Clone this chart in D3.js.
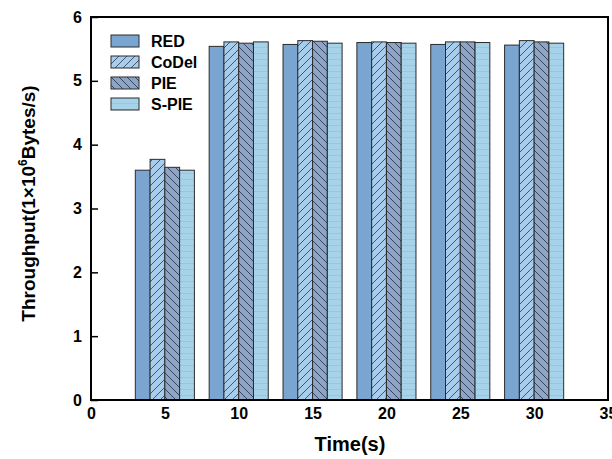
<!DOCTYPE html>
<html>
<head>
<meta charset="utf-8">
<script src="https://cdn.jsdelivr.net/npm/d3@7"></script>
<style>
  body { margin: 0; background: #fff; }
  text { font-family: Arial, "Liberation Sans", sans-serif; font-weight: bold; }
</style>
</head>
<body>
<div id="chart"></div>
<script>
const tempos = [5, 10, 15, 20, 25, 30];
const series = ["RED", "CoDel", "PIE", "S-PIE"];
const red = [3.60, 5.54, 5.57, 5.60, 5.57, 5.56];
const codel = [3.77, 5.61, 5.63, 5.61, 5.61, 5.63];
const pie = [3.645, 5.59, 5.62, 5.60, 5.61, 5.61];
const spie = [3.60, 5.61, 5.59, 5.59, 5.60, 5.59];
const xTicks = [0, 5, 10, 15, 20, 25, 30, 35];
const yTicks = [0, 1, 2, 3, 4, 5, 6];

const valores = [red, codel, pie, spie];
const preenchimento = ["#7aa5d1", "url(#hachCodel)", "url(#hachPie)", "url(#linhasSpie)"];

const largura = 612, altura = 459;
const margem = { top: 17, right: 4, bottom: 59, left: 91 };

const svg = d3.select("#chart").append("svg")
  .attr("width", largura)
  .attr("height", altura);

const defs = svg.append("defs");

// hachura "/" do CoDel
const pCodel = defs.append("pattern")
  .attr("id", "hachCodel")
  .attr("patternUnits", "userSpaceOnUse")
  .attr("width", 8).attr("height", 8);
pCodel.append("rect").attr("width", 8).attr("height", 8).attr("fill", "#a8cdec");
pCodel.append("path").attr("d", "M0,8 L8,0 M-2,2 L2,-2 M6,10 L10,6")
  .attr("stroke", "#3a4a5e").attr("stroke-width", 0.9);

// hachura "\" do PIE
const pPie = defs.append("pattern")
  .attr("id", "hachPie")
  .attr("patternUnits", "userSpaceOnUse")
  .attr("width", 8).attr("height", 8);
pPie.append("rect").attr("width", 8).attr("height", 8).attr("fill", "#8ea5c8");
pPie.append("path").attr("d", "M0,0 L8,8 M-2,6 L2,10 M6,-2 L10,2")
  .attr("stroke", "#2f3b50").attr("stroke-width", 0.9);

// linhas horizontais fracas do S-PIE
const pSpie = defs.append("pattern")
  .attr("id", "linhasSpie")
  .attr("patternUnits", "userSpaceOnUse")
  .attr("width", 8).attr("height", 6);
pSpie.append("rect").attr("width", 8).attr("height", 6).attr("fill", "#a6d3ea");
pSpie.append("path").attr("d", "M0,5.5 L8,5.5")
  .attr("stroke", "#94c2dc").attr("stroke-width", 0.8);

const x = d3.scaleLinear().domain([0, 35]).range([margem.left, largura - margem.right]);
const y = d3.scaleLinear().domain([0, 6]).range([altura - margem.bottom, margem.top]);

// barras
series.forEach((nome, s) => {
  svg.append("g").selectAll("rect")
    .data(tempos.map((t, i) => ({ t: t, v: valores[s][i] })))
    .enter()
    .append("rect")
    .attr("x", d => x(d.t - 2 + s))
    .attr("y", d => y(d.v))
    .attr("width", d => x(d.t - 1 + s) - x(d.t - 2 + s))
    .attr("height", d => y(0) - y(d.v))
    .attr("fill", preenchimento[s])
    .attr("stroke", "#2b2b2b")
    .attr("stroke-width", 1);
});

// eixos
const eixoY = svg.append("g")
  .attr("transform", `translate(${margem.left},0)`)
  .call(d3.axisLeft(y).tickValues(yTicks).tickSize(-7).tickPadding(9).tickFormat(d3.format("d")));
eixoY.select(".domain").remove();
eixoY.selectAll("line").attr("stroke", "#000").attr("stroke-width", 1.5);
eixoY.selectAll("text").attr("font-size", 16).attr("fill", "#000");

const eixoX = svg.append("g")
  .attr("transform", `translate(0,${altura - margem.bottom})`)
  .call(d3.axisBottom(x).tickValues(xTicks).tickSize(0).tickPadding(8).tickFormat(d3.format("d")));
eixoX.select(".domain").remove();
eixoX.selectAll("text").attr("font-size", 16).attr("fill", "#000");

// moldura
svg.append("rect")
  .attr("x", margem.left)
  .attr("y", margem.top)
  .attr("width", largura - margem.right - margem.left)
  .attr("height", altura - margem.bottom - margem.top)
  .attr("fill", "none")
  .attr("stroke", "#000")
  .attr("stroke-width", 2);

// rótulos dos eixos
svg.append("text")
  .attr("x", 350)
  .attr("y", 451)
  .attr("text-anchor", "middle")
  .attr("font-size", 20)
  .text("Time(s)");

const rotY = svg.append("text")
  .attr("transform", `translate(35,${(margem.top + altura - margem.bottom) / 2 - 5}) rotate(-90)`)
  .attr("text-anchor", "middle")
  .attr("font-size", 19);
rotY.append("tspan").text("Throughput(1×10");
rotY.append("tspan").attr("dy", -8).attr("font-size", 12).text("6");
rotY.append("tspan").attr("dy", 8).text("Bytes/s)");

// legenda
const legenda = svg.append("g").attr("transform", "translate(111,35)");
series.forEach((nome, s) => {
  const g = legenda.append("g").attr("transform", `translate(0,${s * 21})`);
  g.append("rect")
    .attr("width", 28).attr("height", 12)
    .attr("fill", preenchimento[s])
    .attr("stroke", "#2b2b2b").attr("stroke-width", 1);
  g.append("text")
    .attr("x", 40).attr("y", 12)
    .attr("font-size", 16)
    .text(nome);
});
</script>
</body>
</html>
